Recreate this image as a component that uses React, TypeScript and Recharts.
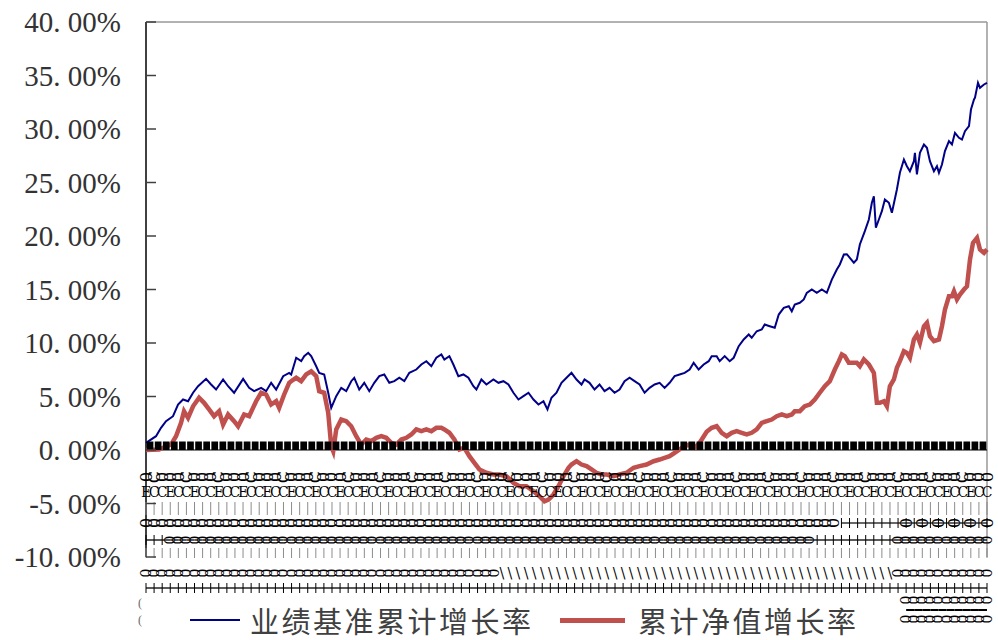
import React from 'react';
import { LineChart, Line, XAxis, YAxis, ReferenceLine, Legend } from 'recharts';

// t = trading-day index along the x axis (0..840), values in %
const blueT = [
  0, 10, 15, 20, 27, 32, 37, 42, 47, 52, 60, 65, 70, 77, 82, 88, 97, 103, 108, 115, 120, 125, 130, 137, 143,
  145, 150, 155, 158, 162, 165, 170, 173, 178, 182, 185, 190, 195, 200, 205, 208, 213, 218, 223, 228, 233, 238, 243, 248, 253, 258, 263, 270, 275, 280, 285,
  290, 295, 298, 303, 307, 312, 317, 322, 327, 330, 335, 340, 347, 352, 357, 362, 367, 372, 377, 382, 387, 392, 397, 401, 405, 410, 415, 420, 425,
  430, 435, 438, 443, 448, 453, 458, 463, 468, 473, 478, 483, 488, 493, 498, 503, 508, 513, 518, 523, 528, 533, 538, 543, 547, 552, 557, 562,
  565, 570, 573, 578, 583, 587, 592, 597, 602, 605, 610, 615, 618, 623, 628, 632, 637, 642, 645, 648, 653, 657, 660, 665, 670, 675, 680, 685, 690, 693, 697, 700,
  703, 707, 710, 713, 718, 722, 725, 727, 729, 732, 735, 738, 742, 745, 750, 753, 757, 760, 763, 767, 768, 770, 773, 777, 780, 783, 787, 790, 792, 795,
  798, 802, 805, 808, 812, 815, 818, 822, 824, 827, 828, 831, 833, 837, 840,
];
const blueV = [
  0.67, 1.29, 2.07, 2.69, 3.16, 4.25, 4.72, 4.56, 5.35, 5.96, 6.65, 6.12, 5.65, 6.59, 5.96, 5.35, 6.65, 5.81, 5.5, 5.81, 5.5, 6.28, 5.65, 6.9, 7.21,
  7.06, 8.62, 8.3, 8.77, 9.08, 8.77, 7.83, 7.21, 7.06, 5.35, 3.94, 5.03, 5.81, 5.5, 6.43, 6.75, 5.65, 6.28, 5.5, 6.28, 6.9, 7.06, 6.28, 6.43, 6.75, 6.43, 7.21, 7.52, 7.99, 8.3, 7.83,
  8.62, 8.93, 8.46, 8.77, 7.99, 6.9, 7.06, 6.75, 5.96, 5.65, 6.59, 6.12, 6.59, 6.28, 6.43, 6.12, 5.35, 4.72, 5.03, 5.35, 4.72, 4.25, 4.56, 3.79, 4.88, 5.35, 6.28, 6.75, 7.21,
  6.59, 6.12, 6.59, 6.28, 5.65, 6.12, 5.5, 5.81, 5.35, 5.65, 6.43, 6.75, 6.43, 6.12, 5.35, 5.81, 6.12, 6.28, 5.81, 6.28, 6.9, 7.06, 7.21, 7.52, 8.15, 7.52, 7.99, 8.3,
  8.77, 8.77, 8.3, 8.77, 8.3, 8.62, 9.7, 10.33, 10.79, 10.49, 11.1, 11.26, 11.73, 11.57, 11.42, 12.66, 13.29, 13.44, 12.97, 13.6, 13.76, 14.07, 14.69, 15.0, 14.69, 15.0, 14.69, 15.93, 16.87, 17.34, 18.27, 18.3,
  17.96, 17.5, 17.8, 19.21, 20.45, 21.54, 23.1, 23.72, 20.77, 21.54, 22.32, 23.41, 23.1, 22.17, 24.35, 25.91, 27.15, 26.52, 26.06, 26.99, 27.78, 25.75, 27.78, 28.55, 28.24, 26.99, 26.06, 26.52, 25.91, 26.68,
  27.93, 28.86, 28.55, 29.64, 29.18, 29.02, 29.79, 30.26, 31.82, 32.76, 32.92, 34.32, 33.85, 34.16, 34.32,
];

const redT = [
  0, 13, 25, 30, 35, 38, 42, 47, 53, 58, 63, 68, 73, 77, 82, 88, 92, 98, 103, 110, 115, 120, 125, 130, 133, 138, 143,
  145, 150, 155, 160, 165, 170, 173, 178, 182, 185, 187, 190, 195, 200, 205, 210, 215, 220, 225, 230, 235, 240, 245, 250, 255, 260, 265, 270, 275, 280, 285,
  290, 295, 298, 303, 308, 313, 318, 323, 328, 333, 340, 347, 353, 360, 367, 373, 380, 387, 393, 398, 402, 407, 412, 417, 422, 425,
  430, 435, 440, 445, 450, 455, 460, 467, 473, 480, 487, 493, 500, 507, 513, 518, 523, 528, 533, 538, 543, 548, 553,
  560, 565, 570, 575, 580, 585, 590, 595, 600, 605, 610, 615, 620, 625, 630, 635, 640, 645, 648, 653, 658, 663, 668, 673, 678, 683, 688, 692, 695, 698, 702,
  705, 710, 713, 717, 722, 727, 730, 733, 737, 740, 743, 747, 750, 753, 757, 760, 763, 767, 770, 773, 777, 780, 783, 787, 792, 795, 798, 802, 805, 807,
  810, 813, 817, 820, 823, 826, 830, 833, 837, 840,
];
const redV = [
  0.0, 0.05, 0.51, 1.29, 2.54, 3.63, 3.01, 4.09, 4.88, 4.41, 3.79, 3.16, 3.63, 2.38, 3.32, 2.69, 2.22, 3.32, 3.16, 4.56, 5.35, 5.19, 4.25, 4.56, 3.94, 5.19, 6.28,
  6.43, 6.75, 6.43, 7.06, 7.36, 6.9, 5.5, 5.35, 3.48, 0.36, -0.11, 1.92, 2.85, 2.69, 2.22, 1.29, 0.51, 0.98, 0.82, 1.14, 1.29, 1.14, 0.67, 0.51, 0.98, 1.14, 1.45, 1.92, 1.76, 1.92, 1.76,
  2.07, 2.07, 1.92, 1.61, 0.98, 0.05, 0.21, -0.58, -1.2, -1.82, -2.13, -2.29, -2.29, -2.45, -3.07, -3.38, -3.38, -3.85, -4.32, -4.79, -4.63, -4.16, -3.38, -2.45, -1.66, -1.36,
  -1.05, -1.36, -1.51, -1.82, -2.13, -2.29, -2.29, -2.45, -2.29, -2.13, -1.66, -1.51, -1.36, -1.05, -0.89, -0.73, -0.58, -0.26, 0.05, 0.36, 0.51, 0.21, 0.67,
  1.7, 2.07, 2.22, 1.61, 1.29, 1.61, 1.76, 1.61, 1.45, 1.61, 1.92, 2.54, 2.69, 2.85, 3.16, 3.32, 3.16, 3.32, 3.63, 3.63, 4.09, 4.25, 4.72, 5.35, 5.96, 6.43, 7.52, 8.3, 8.93, 8.77, 8.15,
  8.15, 8.15, 7.83, 8.46, 7.99, 7.21, 4.41, 4.41, 4.56, 4.09, 5.96, 6.59, 7.68, 8.3, 9.23, 9.08, 8.62, 10.33, 10.79, 10.02, 11.57, 11.89, 10.64, 10.17, 10.33, 11.57, 13.13, 14.37, 14.37, 14.84,
  14.07, 14.53, 15.0, 15.31, 17.8, 19.36, 19.83, 18.74, 18.43, 18.74,
];

const SERIES_NAMES = ['业绩基准累计增长率', '累计净值增长率'];
const Y_TICKS = [-10, -5, 0, 5, 10, 15, 20, 25, 30, 35, 40];

const BLUE = '#000088';
const RED = '#C0504D';

const W = 998;
const H = 640;
const TOP = 22;
const PLOT_LEFT = 146;
const PLOT_RIGHT = 987;
const PLOT_BOTTOM = 557;
const Y_MIN = -10;
const Y_MAX = 40;
const T_MAX = 840;
const ZERO_Y = TOP + (Y_MAX / (Y_MAX - Y_MIN)) * (PLOT_BOTTOM - TOP);
const TICK_STEPS = 104;
const TICK_GAP = (PLOT_RIGHT - PLOT_LEFT) / TICK_STEPS;
const X_TICKS = Array.from({ length: TICK_STEPS + 1 }, (_, i) => (i * T_MAX) / TICK_STEPS);

const blueData = blueT.map((t, i) => ({ t, v: blueV[i] }));
const redData = redT.map((t, i) => ({ t, v: redV[i] }));

const fmtPct = (v: number) => `${v.toFixed(2).replace('.', '. ')}%`;

const YTick = (props: any) => {
  const { x, y, payload } = props;
  return (
    <g>
      <line x1={x} x2={x + 10} y1={y} y2={y} stroke="#404040" strokeWidth={1.5} />
      <text
        x={x - 25}
        y={y}
        textAnchor="end"
        dominantBaseline="central"
        fontFamily='"Liberation Serif", serif'
        fontSize={29}
        fill="#333"
      >
        {fmtPct(payload.value)}
      </text>
    </g>
  );
};

// the date labels of the original overflow into rows of overlapping glyphs
const XTick = (props: any) => {
  const { x, index } = props;
  const els: React.ReactNode[] = [];
  const glyph = (key: string, ch: string, cy: number, rot = -90, size = 16) => (
    <text
      key={key}
      x={x}
      y={cy}
      transform={`rotate(${rot} ${x} ${cy})`}
      textAnchor="middle"
      dominantBaseline="central"
      fontFamily='"DejaVu Serif", serif'
      fontSize={size}
      fill="#000"
    >
      {ch}
    </text>
  );
  const last = index >= TICK_STEPS;

  if (!last) {
    els.push(<rect key="band" x={x + 0.7} y={ZERO_Y - 8.5} width={TICK_GAP - 1.4} height={8.5} fill="#000" />);
  }
  els.push(glyph('a', index % 4 === 1 ? 'C' : '0', 477));
  els.push(glyph('b', index % 3 === 0 ? 'E' : 'C', 492, 0, 14));
  els.push(<line key="g1" x1={x} x2={x} y1={502} y2={515} stroke="#8c8c8c" strokeWidth={1} />);

  if (x < 840) {
    els.push(glyph('c', '0', 523));
  } else {
    if (!last) els.push(<line key="cl" x1={x} x2={x + TICK_GAP} y1={523} y2={523} stroke="#000" strokeWidth={1.2} />);
    els.push(<line key="ct" x1={x} x2={x} y1={518} y2={528} stroke="#000" strokeWidth={1} />);
    if (x > 890 && index % 2 === 0) els.push(glyph('c2', '0', 523));
  }

  if (!last) els.push(<line key="dl" x1={x} x2={x + TICK_GAP} y1={540} y2={540} stroke="#000" strokeWidth={1.3} />);
  if (x < 165 || (x > 810 && x < 895)) {
    els.push(<line key="dt" x1={x} x2={x} y1={535} y2={545} stroke="#000" strokeWidth={1} />);
  } else {
    els.push(glyph('d', '0', 540, -90, 14));
  }
  els.push(<line key="g2" x1={x} x2={x} y1={548} y2={558} stroke="#8c8c8c" strokeWidth={1} />);

  if (x >= 500 && x < 893) {
    els.push(glyph('e', '\\', 573, 0, 14));
  } else {
    els.push(glyph('e', '0', 573, -90, 14));
  }
  if (!last) els.push(<line key="fl" x1={x} x2={x + TICK_GAP} y1={588} y2={588} stroke="#000" strokeWidth={1.3} />);
  els.push(<line key="ft" x1={x} x2={x} y1={583} y2={593} stroke="#000" strokeWidth={1} />);

  if (x >= 905) {
    els.push(glyph('h', '0', 600, -90, 14));
    if (!last) els.push(<line key="hl" x1={x} x2={x + TICK_GAP} y1={610} y2={610} stroke="#000" strokeWidth={2} />);
    els.push(glyph('i', '0', 619, -90, 14));
  }
  if (index === 0) {
    els.push(
      <text key="p1" x={x - 8} y={603} fontSize={12} fill="#666" dominantBaseline="central">(</text>,
      <text key="p2" x={x - 8} y={620} fontSize={12} fill="#666" dominantBaseline="central">(</text>
    );
  }
  return <g>{els}</g>;
};

const SWATCH = [
  { left: 190, width: 50, thick: 2, textLeft: 250 },
  { left: 560, width: 65, thick: 5, textLeft: 638 },
];

const LegendContent = (props: any) => {
  const payload = props.payload || [];
  return (
    <div
      style={{
        position: 'relative',
        width: W,
        height: 36,
        fontFamily: '"Noto Sans CJK SC", sans-serif',
        fontSize: 29,
        lineHeight: '36px',
        color: '#404040',
        whiteSpace: 'nowrap',
      }}
    >
      {payload.map((entry: any, i: number) => {
        const s = SWATCH[i] || SWATCH[0];
        return (
          <React.Fragment key={entry.value}>
            <div
              style={{
                position: 'absolute',
                left: s.left,
                top: 18 - s.thick / 2,
                width: s.width,
                height: s.thick,
                background: entry.color,
              }}
            />
            <span style={{ position: 'absolute', left: s.textLeft, top: 0, letterSpacing: 2.5 }}>{entry.value}</span>
          </React.Fragment>
        );
      })}
    </div>
  );
};

export default function App() {
  return (
    <div style={{ position: 'absolute', left: 0, top: 0, width: W, height: H, background: '#fff' }}>
      <LineChart width={W} height={H} margin={{ top: TOP, right: W - PLOT_RIGHT, bottom: 0, left: 0 }}>
        <XAxis
          type="number"
          dataKey="t"
          domain={[0, T_MAX]}
          ticks={X_TICKS}
          interval={0}
          axisLine={false}
          tickLine={false}
          tick={<XTick />}
          height={H - PLOT_BOTTOM}
        />
        <YAxis
          type="number"
          domain={[Y_MIN, Y_MAX]}
          ticks={Y_TICKS}
          interval={0}
          width={PLOT_LEFT}
          axisLine={{ stroke: '#404040', strokeWidth: 2 }}
          tickLine={false}
          tickSize={0}
          tickMargin={0}
          tick={<YTick />}
        />
        <ReferenceLine y={Y_MAX} stroke="#999" strokeWidth={1.5} />
        <ReferenceLine x={T_MAX} stroke="#999" strokeWidth={1.5} />
        <ReferenceLine y={0} stroke="#000" strokeWidth={1} />
        <Line
          data={blueData}
          dataKey="v"
          name={SERIES_NAMES[0]}
          type="linear"
          stroke={BLUE}
          strokeWidth={2}
          dot={false}
          isAnimationActive={false}
          zIndex={600}
        />
        <Line
          data={redData}
          dataKey="v"
          name={SERIES_NAMES[1]}
          type="linear"
          stroke={RED}
          strokeWidth={4.5}
          dot={false}
          isAnimationActive={false}
          zIndex={600}
        />
        <Legend
          layout="horizontal"
          align="center"
          verticalAlign="middle"
          wrapperStyle={{ top: 602, left: 0, width: W, height: 36 }}
          content={<LegendContent />}
        />
      </LineChart>
    </div>
  );
}
